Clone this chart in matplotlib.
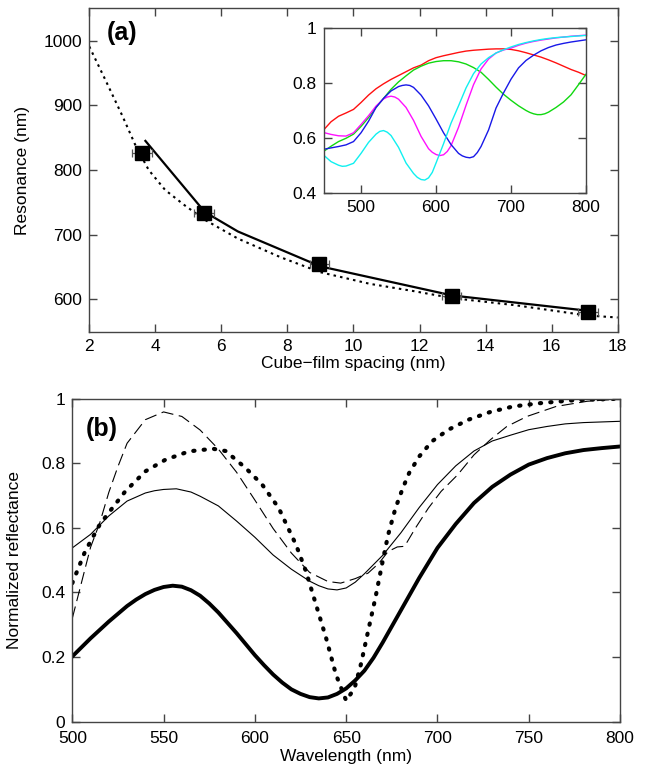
import matplotlib
matplotlib.use("Agg")
import matplotlib.pyplot as plt
from matplotlib.ticker import FormatStrFormatter

plt.rcParams['font.family'] = ['Liberation Sans', 'DejaVu Sans']

# ---------------- Panel (a) data ----------------
spacing = [3.6, 5.48, 8.97, 12.97, 17.1]
resonance = [826, 734, 654, 606, 580]
spacing_err = [0.3, 0.3, 0.3, 0.3, 0.3]

model_x = [3.7, 5.5, 6.5, 9.0, 13.0, 17.0]
model_y = [845, 735, 705, 651, 606, 583]

fit_x = [2, 2.5, 3, 3.4, 3.8, 4.3, 4.9, 5.5, 6.5, 7.8, 9, 10.5, 11.8, 13, 14.9, 17.1, 18]
fit_y = [991, 938, 884, 838, 800, 769, 745, 723, 694, 665, 642, 624, 613, 602, 591, 575, 572]

a_xticks = [2, 4, 6, 8, 10, 12, 14, 16, 18]
a_yticks = [600, 700, 800, 900, 1000]

# ---------------- Inset data ----------------
red_wl = [450, 460, 470, 480, 490, 500, 510, 520, 530, 540, 550, 560, 570, 580, 590,
          600, 610, 620, 630, 640, 650, 660, 670, 680, 690, 700, 710, 720, 730, 740,
          750, 760, 770, 780, 790, 800]
red_r = [0.630, 0.660, 0.680, 0.692, 0.705, 0.730, 0.757, 0.780, 0.798, 0.814, 0.828,
         0.842, 0.856, 0.866, 0.882, 0.893, 0.900, 0.906, 0.912, 0.917, 0.920, 0.922,
         0.924, 0.925, 0.925, 0.923, 0.918, 0.911, 0.903, 0.895, 0.885, 0.874, 0.862,
         0.850, 0.840, 0.828]
green_wl = [450, 460, 470, 480, 490, 500, 510, 520, 530, 540, 550, 560, 570, 580, 590,
            600, 610, 620, 630, 640, 650, 660, 670, 680, 690, 700, 710, 720, 725, 730, 735,
            740, 745, 750, 760, 770, 780, 790, 800]
green_r = [0.552, 0.571, 0.588, 0.600, 0.615, 0.643, 0.675, 0.712, 0.745, 0.778, 0.805,
           0.827, 0.848, 0.862, 0.873, 0.879, 0.882, 0.882, 0.878, 0.870, 0.857, 0.840,
           0.814, 0.786, 0.760, 0.738, 0.718, 0.701, 0.694, 0.689, 0.686, 0.686, 0.689,
           0.695, 0.712, 0.732, 0.758, 0.795, 0.833]
magenta_wl = [450, 460, 470, 480, 490, 500, 510, 520, 530, 535, 540, 545, 550, 560, 570,
              580, 590, 595, 600, 605, 610, 615, 620, 630, 640, 650, 660, 670, 680, 690,
              700, 710, 720, 730, 740, 750, 760, 770, 780, 790, 800]
magenta_r = [0.621, 0.614, 0.609, 0.608, 0.620, 0.650, 0.682, 0.717, 0.743, 0.750, 0.753,
             0.750, 0.742, 0.712, 0.665, 0.607, 0.562, 0.549, 0.541, 0.537, 0.540, 0.552,
             0.573, 0.640, 0.720, 0.795, 0.852, 0.888, 0.910, 0.921, 0.928, 0.938, 0.946,
             0.952, 0.957, 0.961, 0.965, 0.968, 0.971, 0.973, 0.975]
blue_wl = [450, 460, 470, 480, 490, 500, 510, 520, 530, 540, 550, 555, 560, 565, 570, 580,
           590, 600, 610, 620, 630, 635, 640, 645, 650, 655, 660, 670, 680, 690, 700, 710,
           720, 730, 740, 750, 760, 770, 780, 790, 800]
blue_r = [0.560, 0.565, 0.570, 0.576, 0.588, 0.620, 0.662, 0.712, 0.745, 0.772, 0.788,
          0.792, 0.794, 0.792, 0.785, 0.757, 0.718, 0.670, 0.620, 0.577, 0.545, 0.536,
          0.531, 0.529, 0.533, 0.548, 0.570, 0.630, 0.710, 0.765, 0.815, 0.856, 0.883,
          0.902, 0.918, 0.930, 0.939, 0.945, 0.950, 0.954, 0.958]
cyan_wl = [450, 460, 470, 475, 480, 490, 500, 510, 520, 525, 530, 535, 540, 550, 560, 570,
           575, 580, 585, 590, 595, 600, 610, 620, 630, 640, 650, 660, 670, 680, 690, 700,
           710, 720, 730, 740, 750, 760, 770, 780, 790, 800]
cyan_r = [0.539, 0.515, 0.502, 0.498, 0.499, 0.509, 0.545, 0.585, 0.615, 0.625, 0.628,
          0.622, 0.610, 0.567, 0.510, 0.472, 0.458, 0.450, 0.448, 0.456, 0.476, 0.510,
          0.580, 0.655, 0.718, 0.783, 0.835, 0.870, 0.893, 0.910, 0.922, 0.932, 0.941,
          0.948, 0.954, 0.959, 0.963, 0.966, 0.968, 0.970, 0.972, 0.974]
inset_xticks = [500, 600, 700, 800]
inset_yticks = [0.4, 0.6, 0.8, 1.0]

# ---------------- Panel (b) data ----------------
thick_wl = [500, 510, 520, 530, 535, 540, 545, 550, 555, 560, 565, 570, 575, 580, 590, 600,
            605, 610, 615, 620, 625, 630, 635, 640, 645, 650, 655, 660, 665, 670, 680, 690,
            700, 710, 720, 730, 740, 750, 760, 770, 780, 790, 800]
thick_r = [0.202, 0.258, 0.310, 0.358, 0.378, 0.395, 0.408, 0.417, 0.421, 0.418, 0.407,
           0.390, 0.366, 0.338, 0.274, 0.206, 0.175, 0.146, 0.121, 0.100, 0.086, 0.076,
           0.072, 0.075, 0.086, 0.103, 0.128, 0.158, 0.198, 0.245, 0.345, 0.445, 0.538,
           0.612, 0.677, 0.727, 0.765, 0.796, 0.816, 0.831, 0.841, 0.847, 0.852]

thin_wl = [500, 510, 520, 530, 540, 545, 550, 557, 565, 570, 580, 590, 600, 610, 620, 630,
           635, 640, 645, 650, 655, 660, 670, 680, 690, 700, 710, 720, 730, 740, 750, 760,
           770, 780, 790, 800]
thin_r = [0.538, 0.580, 0.637, 0.683, 0.708, 0.715, 0.719, 0.721, 0.711, 0.698, 0.668,
          0.621, 0.571, 0.516, 0.472, 0.435, 0.421, 0.411, 0.408, 0.414, 0.432, 0.458,
          0.515, 0.585, 0.663, 0.734, 0.792, 0.838, 0.869, 0.887, 0.904, 0.914, 0.922,
          0.926, 0.928, 0.930]

dash_wl = [500, 505, 510, 515, 520, 525, 530, 540, 550, 560, 570, 580, 590, 600, 610, 620,
           630, 640, 647, 655, 662, 668, 673, 678, 682, 688, 695, 702, 711, 720, 729, 738,
           749, 765, 782, 800]
dash_r = [0.320, 0.430, 0.540, 0.615, 0.710, 0.790, 0.862, 0.935, 0.959, 0.945, 0.903, 0.844,
          0.772, 0.686, 0.598, 0.522, 0.462, 0.434, 0.429, 0.443, 0.460, 0.491, 0.527, 0.541,
          0.543, 0.600, 0.661, 0.713, 0.764, 0.826, 0.873, 0.914, 0.945, 0.976, 0.992, 0.999]

dot_wl = [500, 507, 515, 522, 529, 540, 551, 564, 577, 584, 595, 604, 613, 622.5, 628, 633.5,
          639, 644.4, 650, 654.6, 658, 662, 666, 669.6, 673, 677, 681, 684.5, 690, 697, 706,
          717, 729, 741.5, 756, 774, 800]
dot_r = [0.429, 0.527, 0.610, 0.662, 0.713, 0.775, 0.811, 0.837, 0.845, 0.838, 0.785, 0.734,
         0.662, 0.548, 0.465, 0.362, 0.259, 0.146, 0.065, 0.104, 0.176, 0.280, 0.383, 0.486,
         0.579, 0.661, 0.723, 0.770, 0.821, 0.868, 0.904, 0.935, 0.959, 0.976, 0.986, 0.995,
         1.000]

b_xticks = [500, 550, 600, 650, 700, 750, 800]
b_yticks = [0, 0.2, 0.4, 0.6, 0.8, 1.0]

FS = 12.5
SPINE = '#444444'


def style_axes(ax, fs=FS):
    for s in ax.spines.values():
        s.set_color(SPINE)
        s.set_linewidth(1.0)
    ax.tick_params(direction='in', top=True, right=True, length=6, width=1.0,
                   color=SPINE, labelsize=fs, pad=5)


fig = plt.figure(figsize=(6.45, 7.74), dpi=100)

# ---------------- Panel (a) ----------------
axa = fig.add_axes([0.1384, 0.5714, 0.8192, 0.4179])
axa.plot(fit_x, fit_y, color='black', lw=1.5, linestyle=(0, (1.2, 2.0)), zorder=2)
axa.plot(model_x, model_y, color='black', lw=1.6, zorder=3)
axa.errorbar(spacing, resonance, xerr=spacing_err, fmt='none', ecolor='#555555',
             elinewidth=0.9, capsize=3, capthick=0.9, zorder=4)
axa.plot(spacing, resonance, linestyle='none', marker='s', markersize=10,
         color='black', zorder=5)
axa.set_xlim(2, 18)
axa.set_ylim(550, 1050)
axa.set_xticks(a_xticks)
axa.set_yticks(a_yticks)
style_axes(axa)
axa.set_xlabel('Cube\u2212film spacing (nm)', fontsize=FS)
axa.set_ylabel('Resonance (nm)', fontsize=FS)
axa.xaxis.set_label_coords(0.5, -0.075)
axa.yaxis.set_label_coords(-0.112, 0.5)
axa.text(0.033, 0.924, '(a)', transform=axa.transAxes, fontsize=18,
         fontweight='bold', ha='left', va='center')

# ---------------- Inset ----------------
axi = fig.add_axes([0.5016, 0.7503, 0.4070, 0.2132])
axi.plot(red_wl, red_r, color='#ff1010', lw=1.0)
axi.plot(green_wl, green_r, color='#10d810', lw=1.0)
axi.plot(magenta_wl, magenta_r, color='#ff10ff', lw=1.0)
axi.plot(blue_wl, blue_r, color='#1818e8', lw=1.0)
axi.plot(cyan_wl, cyan_r, color='#10f0f0', lw=1.0)
axi.set_xlim(450, 800)
axi.set_ylim(0.4, 1.0)
axi.set_xticks(inset_xticks)
axi.set_yticks(inset_yticks)
axi.yaxis.set_major_formatter(FormatStrFormatter('%g'))
style_axes(axi)

# ---------------- Panel (b) ----------------
axb = fig.add_axes([0.1121, 0.0676, 0.8492, 0.4173])
axb.plot(thin_wl, thin_r, color='black', lw=0.8)
axb.plot(dash_wl, dash_r, color='black', lw=0.8, linestyle=(0, (11, 5)))
axb.plot(thick_wl, thick_r, color='black', lw=2.8)
axb.plot(dot_wl, dot_r, color='black', lw=3.0, linestyle=(0, (0.3, 2.2)),
         dash_capstyle='round')
axb.set_xlim(500, 800)
axb.set_ylim(0, 1)
axb.set_xticks(b_xticks)
axb.set_yticks(b_yticks)
axb.yaxis.set_major_formatter(FormatStrFormatter('%g'))
style_axes(axb)
axb.tick_params(axis='x', pad=7)
axb.set_xlabel('Wavelength (nm)', fontsize=FS)
axb.set_ylabel('Normalized reflectance', fontsize=FS)
axb.xaxis.set_label_coords(0.5, -0.085)
axb.yaxis.set_label_coords(-0.092, 0.5)
axb.text(0.024, 0.906, '(b)', transform=axb.transAxes, fontsize=18,
         fontweight='bold', ha='left', va='center')

fig.savefig('out.png', dpi=100)
